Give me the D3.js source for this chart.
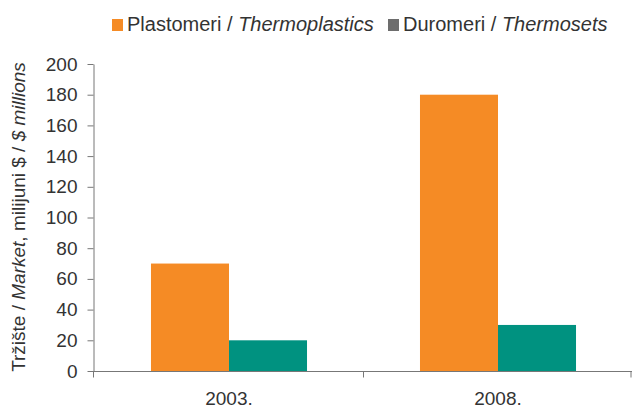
<!DOCTYPE html>
<html><head><meta charset="utf-8">
<script src="https://cdn.jsdelivr.net/npm/d3@7"></script>
<style>body{margin:0;background:#fff}svg{display:block;font-family:"Liberation Sans",Arial,sans-serif}</style>
</head><body><svg id="c" width="632" height="408"></svg>
<script>
const categories = ["2003.", "2008."];
const seriesNames = ["Plastomeri", "Duromeri"];
const seriesItalic = ["Thermoplastics", "Thermosets"];
const plastomeri = [70, 180];
const duromeri = [20, 30];
const yTicks = [0, 20, 40, 60, 80, 100, 120, 140, 160, 180, 200];
const colors = ["#f58b25", "#009280"];
const legendColors = ["#f58b25", "#6d6d6d"];

const FONT = "'Liberation Sans', Arial, sans-serif";
const svg = d3.select("#c");
const x0 = d3.scaleBand().domain(categories).range([94.5, 632.5]).paddingInner(0).paddingOuter(0);
const x1 = d3.scaleBand().domain(seriesNames).range([0, x0.bandwidth()]).paddingOuter(0.724).paddingInner(0);
const y = d3.scaleLinear().domain([0, 200]).range([371, 64]);
const series = [plastomeri, duromeri];

// bars
categories.forEach((c, i) => {
  seriesNames.forEach((s, j) => {
    svg.append("rect")
      .attr("x", x0(c) + x1(s))
      .attr("y", y(series[j][i]))
      .attr("width", x1.bandwidth())
      .attr("height", y(0) - y(series[j][i]))
      .attr("fill", colors[j]);
  });
});

// y axis
const yAxis = svg.append("g").attr("transform", "translate(93.5,0)")
  .call(d3.axisLeft(y).tickValues(yTicks).tickSize(6).tickSizeOuter(0).tickPadding(10));
yAxis.selectAll("text").attr("font-size", 19).attr("fill", "#333").attr("font-family", FONT);
yAxis.selectAll("line, path").attr("stroke", "#777");

// x axis
const xAxisG = svg.append("g").attr("transform", "translate(0,371.5)");
xAxisG.append("line").attr("x1", 88).attr("x2", 632).attr("y1", 0).attr("y2", 0).attr("stroke", "#777");
const bounds = [x0.range()[0] - 1, x0(categories[1]), x0.range()[1] - 1.5];
bounds.forEach(b => xAxisG.append("line").attr("x1", b).attr("x2", b).attr("y1", 0).attr("y2", 6).attr("stroke", "#777"));
categories.forEach(c => {
  xAxisG.append("text").attr("x", x0(c) + x0.bandwidth() / 2).attr("y", 33)
    .attr("text-anchor", "middle").attr("font-size", 19).attr("fill", "#333").attr("font-family", FONT).text(c);
});

// y label
const yl = svg.append("text").attr("transform", "translate(25,217) rotate(-90)")
  .attr("text-anchor", "middle").attr("font-size", 19).attr("fill", "#333").attr("font-family", FONT);
yl.append("tspan").text("Tržište / ");
yl.append("tspan").attr("font-style", "italic").text("Market");
yl.append("tspan").text(", milijuni $ / ");
yl.append("tspan").attr("font-style", "italic").text("$ millions");

// legend
const legX = [112, 388];
seriesNames.forEach((s, j) => {
  svg.append("rect").attr("x", legX[j]).attr("y", 19).attr("width", 11).attr("height", 12).attr("fill", legendColors[j]);
  const t = svg.append("text").attr("x", legX[j] + 15).attr("y", 31).attr("font-size", 20).attr("fill", "#333").attr("font-family", FONT);
  t.append("tspan").text(s + " / ");
  t.append("tspan").attr("font-style", "italic").text(seriesItalic[j]);
});
</script></body></html>
